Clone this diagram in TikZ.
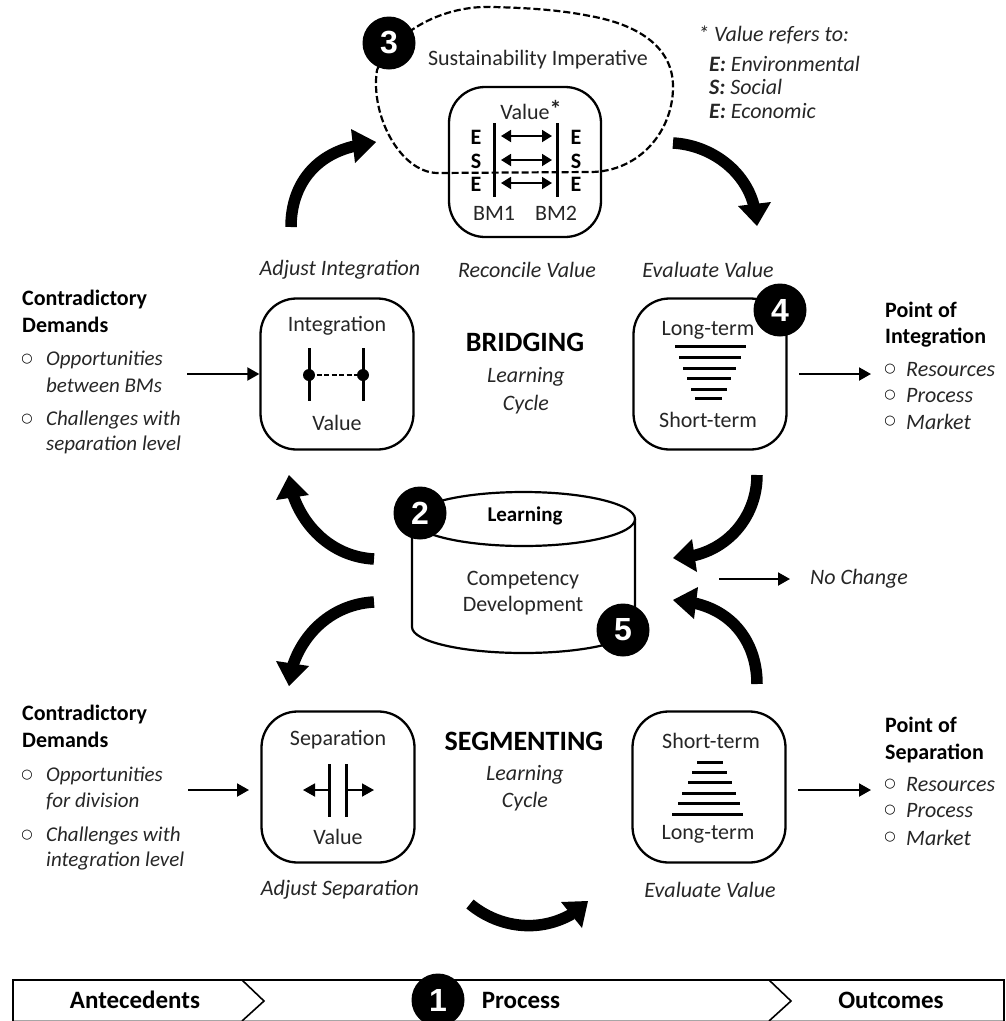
\documentclass[tikz,border=0pt]{standalone}
\usepackage{fontspec}
\setmainfont{Carlito}
\newfontfamily\symfont{DejaVu Sans}
\newfontfamily\digitfont{Liberation Sans}
\usetikzlibrary{arrows.meta,positioning}
\tikzset{
 txt/.style={inner sep=0pt,font=\fontsize{22}{26}\selectfont,text=black!85},
 ltxt/.style={txt,anchor=west},
 head/.style={txt,font=\fontsize{22}{26}\selectfont\bfseries,anchor=west,text=black},
 barlabel/.style={txt,font=\fontsize{25}{28}\selectfont\bfseries,text=black},
 letter/.style={txt,font=\fontsize{22}{26}\selectfont\bfseries,text=black},
 ital/.style={txt,font=\fontsize{22}{26}\selectfont\itshape},
 litem/.style={ital,anchor=west},
 lefti/.style={litem,font=\fontsize{21}{25}\selectfont\itshape},
 title/.style={txt,font=\fontsize{28}{32}\selectfont\bfseries,text=black},
 rbox/.style={draw,line width=2.3pt,rounded corners=36pt,fill=white},
 badge/.style={circle,fill=black,text=white,minimum size=53pt,inner sep=0pt,font=\digitfont\fontsize{32}{36}\selectfont\bfseries},
 fatline/.style={line width=11.5pt,black},
 fathead/.style={fill=black},
 thin/.style={line width=2pt,-{Triangle[length=12pt,width=13pt]},black},
 small/.style={line width=1.8pt,{Triangle[length=10pt,width=12pt]}-{Triangle[length=10pt,width=12pt]},black},
 bar/.style={line width=3pt,black},
 stem/.style={line width=3pt,black},
 bul/.style={inner sep=0pt,font=\symfont\fontsize{13}{16}\selectfont},
}
\begin{document}
\begin{tikzpicture}[x=1pt,y=-1pt]
\useasboundingbox (0,0) rectangle (1005,1021);
% value box
\node[rbox,minimum width=152pt,minimum height=150pt,inner sep=0pt] (vbox) at (525,162) {};
% blob
\draw[line width=2.2pt,dash pattern=on 7pt off 3pt] (377,70) .. controls (395,30) and (445,5) .. (493,7)
  .. controls (530,8) and (560,10) .. (590,16) .. controls (635,24) and (672,45) .. (673,85)
  .. controls (674,130) and (640,172) .. (590,172) -- (437,173)
  .. controls (400,172) and (370,115) .. (377,70);
\node[txt] (sust) at (538,60) {Sustainability Imperative};
\node[txt] (valstar) at (531,110) {Value\raisebox{2pt}{\fontsize{24}{24}\selectfont\bfseries *}};
\coordinate (l1a) at (494,123); \coordinate (l1b) at (494,197);
\coordinate (l2a) at (557,123); \coordinate (l2b) at (557,197);
\draw[stem] (l1a) -- (l1b); \draw[stem] (l2a) -- (l2b);
\foreach \n/\y/\t in {a/137/E,b/161/S,c/184/E}{
  \node[letter] (L\n) at (476,\y) {\t};
  \node[letter] (R\n) at (576,\y) {\t};
  \coordinate (Ma\n) at (501,\y-1); \coordinate (Mb\n) at (552,\y-1);
  \draw[small] (Ma\n) -- (Mb\n);
}
\node[txt] (bm1) at (494,213) {BM1};
\node[txt] (bm2) at (556,213) {BM2};
\node[badge] (n3) at (389,43) {3};
% note
\node[litem] (note) at (698,35) {* Value refers to:};
\node[litem] (nE1) at (709,64) {\textbf{E:} Environmental};
\node[litem] (nS) at (709,87) {\textbf{S:} Social};
\node[litem] (nE2) at (709,111) {\textbf{E:} Economic};
% labels
\node[ital] (adjI) at (340,270) {Adjust Integration};
\node[ital] (recV) at (527,270) {Reconcile Value};
\node[ital] (evalT) at (708,270) {Evaluate Value};
% integration box
\node[rbox,minimum width=153pt,minimum height=151pt,inner sep=0pt] (ibox) at (337,374) {};
\node[txt] (itxt) at (337,326) {Integration};
\node[txt] (ival) at (337,423) {Value};
\draw[stem] (309,348) -- (309,401);
\draw[stem] (363,348) -- (363,401);
\draw[line width=2pt,dash pattern=on 5pt off 2.5pt] (309,375) -- (363,375);
\fill (309,375) circle (6pt) (363,375) circle (6pt);
% long term box
\node[rbox,minimum width=153pt,minimum height=151pt,inner sep=0pt] (lbox) at (710,374) {};
\node[txt] (ltxt1) at (708,330) {Long-term};
\node[txt] (stxt1) at (708,420) {Short-term};
\foreach \y/\a/\b in {346/675/746,357/679/741,368/683/736,378/687/731,389/691/727,398/695/722}{
  \draw[bar] (\a,\y) -- (\b,\y);
}
\node[badge] (n4) at (780,310) {4};
% bridging
\node[title] (brg) at (525,342) {BRIDGING};
\node[ital] (lc1) at (526,377) {Learning};
\node[ital] (cy1) at (526,405) {Cycle};
% left upper text
\node[head] (cd1) at (22,300) {Contradictory};
\node[head] (cd2) at (22,325) {Demands};
\node[bul] (b1) at (27,359) {○};
\node[lefti] (t1) at (46,360) {Opportunities};
\node[lefti] (t2) at (46,385) {between BMs};
\node[bul] (b2) at (27,419) {○};
\node[lefti] (t3) at (46,420) {Challenges with};
\node[lefti] (t4) at (46,445) {separation level};
\coordinate (ai1) at (187,374);
\draw[thin] (ai1) -- (ibox.west);
% right upper text
\node[head] (pi1) at (885,310) {Point of};
\node[head] (pi2) at (885,338) {Integration};
\node[bul] (b3) at (890,369) {○};
\node[litem] (r1) at (906,370) {Resources};
\node[bul] (b4) at (890,395) {○};
\node[litem] (r2) at (906,396) {Process};
\node[bul] (b5) at (890,421) {○};
\node[litem] (r3) at (906,422) {Market};
\coordinate (ao1) at (871,374);
\coordinate (ao1s) at (799,374);
\draw[thin] (ao1s) -- (ao1);
% cylinder
\draw[line width=2.2pt,fill=white] (412,519) -- (412,627) arc[start angle=180,end angle=360,x radius=111.5pt,y radius=26pt] -- (635,519);
\draw[line width=2.2pt,fill=white] (523.5,519) ellipse [x radius=111.5pt,y radius=27pt];
\node[txt,font=\fontsize{21}{24}\selectfont\bfseries,text=black] (learn) at (525,516) {Learning};
\node[txt] (comp) at (523,580) {Competency};
\node[txt] (devl) at (523,606) {Development};
\node[badge] (n2) at (420,513) {2};
\node[badge] (n5) at (623,630) {5};
\node[litem] (noch) at (810,579) {No Change};
\coordinate (nc) at (719,579); \coordinate (nd) at (790,579);
\draw[thin] (nc) -- (nd);
% bottom boxes
\node[rbox,minimum width=153pt,minimum height=151pt,inner sep=0pt] (sbox) at (338,787) {};
\node[txt] (stxt) at (338,740) {Separation};
\node[txt] (sval) at (338,837) {Value};
\draw[stem] (329,764) -- (329,817);
\draw[stem] (346,764) -- (346,817);
\draw[thin,line width=1.8pt] (329,790) -- (303,790);
\draw[thin,line width=1.8pt] (346,790) -- (374,790);
\node[rbox,minimum width=153pt,minimum height=151pt,inner sep=0pt] (tbox) at (709,787) {};
\node[txt] (stxt2) at (711,741) {Short-term};
\node[txt] (ltxt2) at (708,834) {Long-term};
\foreach \y/\a/\b in {762/697/723,772/692/727,782/688/732,793/682/736,803/678/740,814/672/743}{
  \draw[bar] (\a,\y) -- (\b,\y);
}
\node[title] (seg) at (524,741) {SEGMENTING};
\node[ital] (lc2) at (525,775) {Learning};
\node[ital] (cy2) at (525,802) {Cycle};
\node[ital] (adjS) at (340,890) {Adjust Separation};
\node[ital] (evalB) at (710,890) {Evaluate Value};
% left lower text
\node[head] (cd3) at (22,715) {Contradictory};
\node[head] (cd4) at (22,740) {Demands};
\node[bul] (b6) at (27,775) {○};
\node[lefti] (u1) at (46,776) {Opportunities};
\node[lefti] (u2) at (46,801) {for division};
\node[bul] (b7) at (27,835) {○};
\node[lefti] (u3) at (46,836) {Challenges with};
\node[lefti] (u4) at (46,861) {integration level};
\coordinate (ai2) at (188,790); \coordinate (ai2e) at (249,790);
\draw[thin] (ai2) -- (ai2e);
% right lower text
\node[head] (ps1) at (885,725) {Point of};
\node[head] (ps2) at (885,753) {Separation};
\node[bul] (b8) at (890,784) {○};
\node[litem] (v1) at (906,785) {Resources};
\node[bul] (b9) at (890,810) {○};
\node[litem] (v2) at (906,811) {Process};
\node[bul] (b10) at (890,837) {○};
\node[litem] (v3) at (906,838) {Market};
\coordinate (ao2s) at (798,790); \coordinate (ao2) at (871,790);
\draw[thin] (ao2s) -- (ao2);
% fat arrows: shaft plus triangular head
\coordinate (f1a) at (291,227); \coordinate (f1b) at (355,146);
\draw[fatline] (f1a) .. controls (291,185) and (315,155) .. (f1b);
\fill[fathead] (351,129) -- (376,142) -- (355,163) -- cycle;
\coordinate (f2a) at (673,143); \coordinate (f2b) at (754,206);
\draw[fatline] (f2a) .. controls (710,145) and (745,170) .. (f2b);
\fill[fathead] (738,206) -- (771,202) -- (757,226) -- cycle;
\coordinate (f3a) at (757,475); \coordinate (f3b) at (692,556);
\draw[fatline] (f3a) .. controls (757,515) and (730,548) .. (f3b);
\fill[fathead] (692,539) -- (673,558) -- (697,572) -- cycle;
\coordinate (f4a) at (757,684); \coordinate (f4b) at (694,603);
\draw[fatline] (f4a) .. controls (757,645) and (735,612) .. (f4b);
\fill[fathead] (698,587) -- (673,600) -- (694,619) -- cycle;
\coordinate (f5a) at (374,559); \coordinate (f5b) at (293,495);
\draw[fatline] (f5a) .. controls (335,557) and (305,530) .. (f5b);
\fill[fathead] (289,475) -- (276,500) -- (309,495) -- cycle;
\coordinate (f6a) at (374,602); \coordinate (f6b) at (293,665);
\draw[fatline] (f6a) .. controls (335,604) and (305,630) .. (f6b);
\fill[fathead] (276,661) -- (309,666) -- (289,686) -- cycle;
\coordinate (f7a) at (470,904); \coordinate (f7b) at (572,914);
\draw[fatline] (f7a) .. controls (495,925) and (535,935) .. (f7b);
\fill[fathead] (561,902) -- (588,901) -- (582,928) -- cycle;
% bottom bar
\draw[line width=1.6pt,black!35] (13,1020.5) -- (1004,1020.5);
\draw[line width=2pt] (13,1021) -- (13,980) -- (1004,980) -- (1004,1021);
\draw[line width=1.6pt] (242,980) -- (264,1001) -- (242,1021);
\draw[line width=1.6pt] (769,980) -- (791,1001) -- (769,1021);
\node[barlabel] (ant) at (135,1000) {Antecedents};
\node[barlabel] (proc) at (521,1000) {Process};
\node[barlabel] (outc) at (891,1000) {Outcomes};
\node[badge] (n1) at (438,1000) {1};
\end{tikzpicture}
\end{document}
